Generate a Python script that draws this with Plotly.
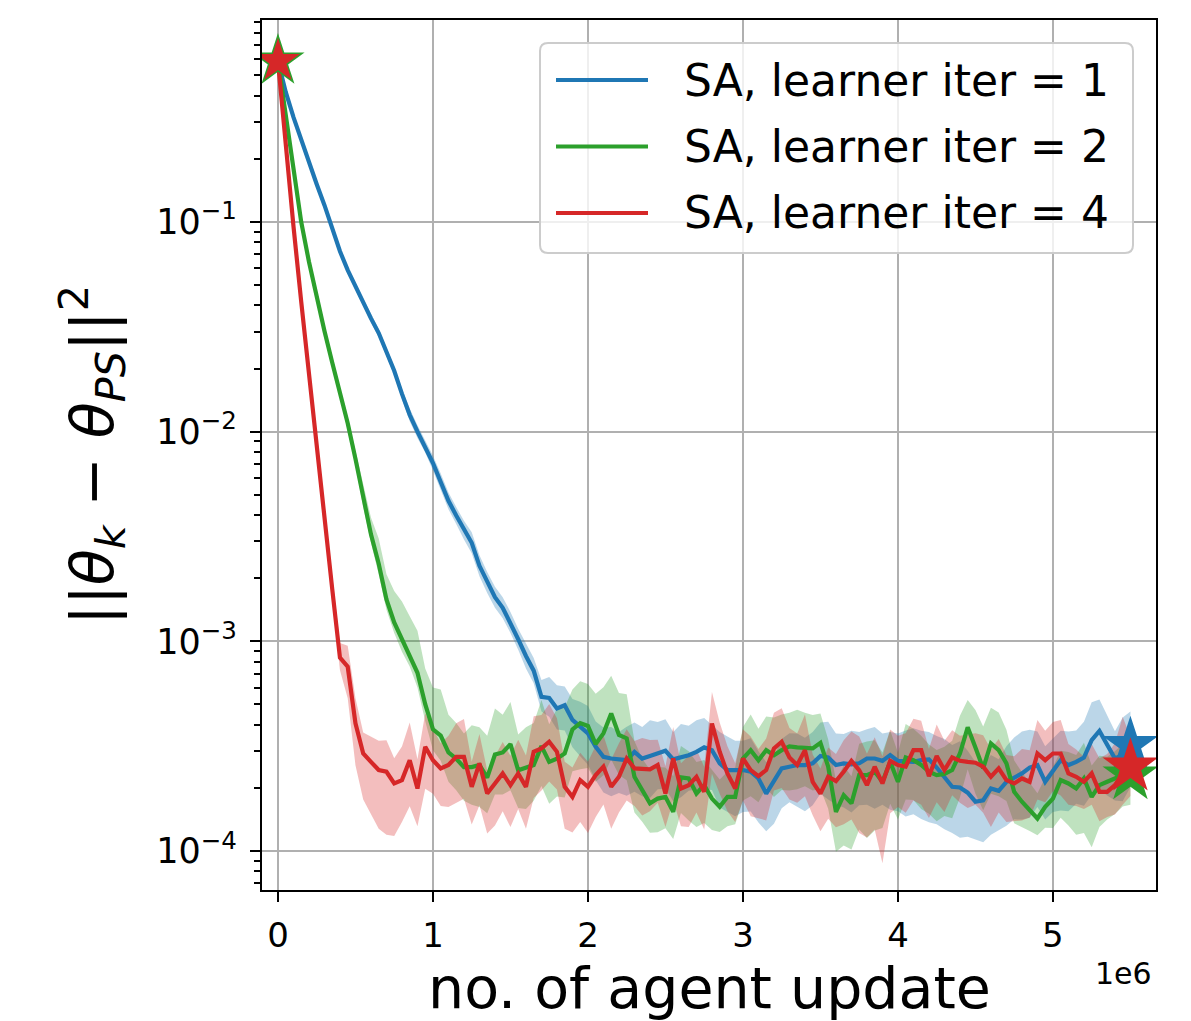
import numpy as np
import plotly.graph_objects as go

# ---------------- data ----------------
# x: number of agent updates, one sample every 50 000 updates
updates = np.arange(111) * 5e4

# log10 of the mean squared distance ||theta_k - theta_PS||^2
blue_log = [
    -0.233, -0.38, -0.50, -0.61, -0.72, -0.82, -0.92, -1.03, -1.14, -1.23,
    -1.31, -1.38, -1.46, -1.53, -1.62, -1.71, -1.82, -1.92, -2.00, -2.07,
    -2.15, -2.24, -2.33, -2.40, -2.47, -2.53, -2.64, -2.72, -2.79, -2.84,
    -2.91, -2.99, -3.07, -3.14, -3.265, -3.27, -3.32, -3.305, -3.375, -3.408,
    -3.439, -3.503, -3.551, -3.559, -3.563, -3.567, -3.527, -3.559, -3.547, -3.535,
    -3.522, -3.563, -3.554, -3.543, -3.527, -3.506, -3.519, -3.582, -3.614, -3.614,
    -3.614, -3.622, -3.654, -3.726, -3.670, -3.606, -3.598, -3.590, -3.590, -3.582,
    -3.547, -3.554, -3.590, -3.582, -3.587, -3.582, -3.559, -3.559, -3.570, -3.543,
    -3.570, -3.575, -3.575, -3.567, -3.563, -3.602, -3.646, -3.694, -3.697, -3.722,
    -3.765, -3.758, -3.702, -3.713, -3.670, -3.649, -3.630, -3.602, -3.590, -3.670,
    -3.614, -3.567, -3.590, -3.575, -3.554, -3.471, -3.427, -3.495, -3.559, -3.543,
    -3.495,
]
green_log = [
    -0.233, -0.50, -0.76, -1.00, -1.19, -1.36, -1.52, -1.67, -1.81, -1.96,
    -2.13, -2.32, -2.49, -2.63, -2.80, -2.91, -2.99, -3.06, -3.15, -3.30,
    -3.42, -3.45, -3.53, -3.56, -3.60, -3.60, -3.59, -3.65, -3.54, -3.53,
    -3.49, -3.615, -3.60, -3.59, -3.50, -3.575, -3.56, -3.535, -3.42, -3.39,
    -3.404, -3.49, -3.439, -3.344, -3.447, -3.463, -3.646, -3.710, -3.773, -3.750,
    -3.742, -3.813, -3.649, -3.654, -3.726, -3.686, -3.750, -3.789, -3.742, -3.742,
    -3.559, -3.519, -3.567, -3.519, -3.543, -3.519, -3.501, -3.506, -3.511, -3.511,
    -3.484, -3.598, -3.813, -3.734, -3.773, -3.638, -3.638, -3.622, -3.670, -3.575,
    -3.670, -3.554, -3.567, -3.590, -3.622, -3.638, -3.633, -3.614, -3.535, -3.410,
    -3.507, -3.606, -3.487, -3.519, -3.582, -3.718, -3.765, -3.805, -3.845, -3.789,
    -3.750, -3.662, -3.678, -3.702, -3.654, -3.742, -3.686, -3.670, -3.654, -3.638,
    -3.640,
]
red_log = [
    -0.233, -0.65, -1.02, -1.38, -1.73, -2.07, -2.41, -2.75, -3.078, -3.121,
    -3.391, -3.535, -3.575, -3.614, -3.622, -3.678, -3.662, -3.567, -3.702, -3.503,
    -3.567, -3.606, -3.590, -3.551, -3.551, -3.694, -3.582, -3.726, -3.678, -3.630,
    -3.686, -3.630, -3.694, -3.527, -3.511, -3.479, -3.527, -3.694, -3.742, -3.662,
    -3.694, -3.638, -3.598, -3.694, -3.646, -3.559, -3.606, -3.611, -3.611, -3.590,
    -3.726, -3.559, -3.702, -3.686, -3.646, -3.718, -3.392, -3.527, -3.630, -3.702,
    -3.559, -3.614, -3.643, -3.614, -3.511, -3.479, -3.554, -3.590, -3.519, -3.670,
    -3.726, -3.646, -3.667, -3.622, -3.570, -3.614, -3.686, -3.598, -3.678, -3.570,
    -3.590, -3.598, -3.519, -3.519, -3.643, -3.547, -3.614, -3.554, -3.570, -3.575,
    -3.579, -3.598, -3.646, -3.606, -3.662, -3.678, -3.654, -3.670, -3.535, -3.567,
    -3.535, -3.535, -3.630, -3.646, -3.670, -3.630, -3.718, -3.718, -3.686, -3.630,
    -3.598,
]

# spread of the shaded band above / below the mean (in decades)
blue_up = [
    0.01, 0.01, 0.01, 0.01, 0.01, 0.01, 0.01, 0.01, 0.01, 0.015,
    0.015, 0.015, 0.02, 0.02, 0.02, 0.02, 0.025, 0.03, 0.03, 0.03,
    0.035, 0.04, 0.04, 0.04, 0.045, 0.05, 0.05, 0.05, 0.05, 0.05,
    0.05, 0.05, 0.06, 0.06, 0.08, 0.10, 0.11, 0.09, 0.10, 0.12,
    0.13, 0.12, 0.14, 0.15, 0.13, 0.16, 0.14, 0.15, 0.17, 0.15,
    0.15, 0.13, 0.16, 0.14, 0.15, 0.14, 0.12, 0.15, 0.16, 0.14,
    0.14, 0.16, 0.13, 0.15, 0.12, 0.14, 0.16, 0.15, 0.13, 0.15,
    0.16, 0.17, 0.15, 0.14, 0.16, 0.15, 0.14, 0.15, 0.13, 0.11,
    0.13, 0.15, 0.16, 0.14, 0.13, 0.15, 0.18, 0.20, 0.22, 0.20,
    0.19, 0.17, 0.16, 0.15, 0.17, 0.19, 0.20, 0.18, 0.16, 0.17,
    0.15, 0.14, 0.16, 0.15, 0.17, 0.18, 0.15, 0.14, 0.13, 0.18,
    0.16,
]
blue_dn = [
    0.01, 0.01, 0.01, 0.01, 0.01, 0.01, 0.01, 0.01, 0.01, 0.015,
    0.015, 0.015, 0.02, 0.02, 0.02, 0.02, 0.025, 0.03, 0.03, 0.03,
    0.035, 0.04, 0.04, 0.04, 0.045, 0.05, 0.05, 0.05, 0.05, 0.05,
    0.05, 0.05, 0.06, 0.06, 0.07, 0.09, 0.10, 0.12, 0.13, 0.14,
    0.15, 0.16, 0.17, 0.18, 0.16, 0.17, 0.19, 0.18, 0.20, 0.17,
    0.18, 0.20, 0.19, 0.17, 0.18, 0.20, 0.19, 0.21, 0.20, 0.22,
    0.20, 0.19, 0.21, 0.18, 0.20, 0.19, 0.17, 0.20, 0.22, 0.20,
    0.18, 0.20, 0.19, 0.21, 0.23, 0.20, 0.22, 0.24, 0.21, 0.26,
    0.24, 0.26, 0.25, 0.28, 0.30, 0.27, 0.25, 0.22, 0.24, 0.21,
    0.18, 0.20, 0.22, 0.19, 0.21, 0.20, 0.22, 0.24, 0.20, 0.18,
    0.20, 0.24, 0.22, 0.20, 0.23, 0.26, 0.28, 0.24, 0.20, 0.22,
    0.20,
]
green_up = [
    0.01, 0.01, 0.01, 0.01, 0.015, 0.015, 0.02, 0.02, 0.02, 0.03,
    0.04, 0.06, 0.08, 0.12, 0.12, 0.15, 0.18, 0.18, 0.20, 0.17,
    0.20, 0.22, 0.18, 0.17, 0.16, 0.20, 0.18, 0.20, 0.22, 0.18,
    0.20, 0.17, 0.19, 0.20, 0.22, 0.18, 0.24, 0.22, 0.19, 0.20,
    0.20, 0.24, 0.22, 0.18, 0.20, 0.21, 0.17, 0.15, 0.16, 0.15,
    0.14, 0.17, 0.15, 0.13, 0.15, 0.12, 0.14, 0.13, 0.12, 0.14,
    0.15, 0.17, 0.15, 0.16, 0.18, 0.17, 0.16, 0.18, 0.17, 0.16,
    0.14, 0.13, 0.15, 0.14, 0.13, 0.15, 0.16, 0.15, 0.14, 0.15,
    0.14, 0.16, 0.15, 0.14, 0.13, 0.12, 0.13, 0.14, 0.18, 0.13,
    0.18, 0.20, 0.17, 0.18, 0.16, 0.15, 0.14, 0.13, 0.12, 0.14,
    0.15, 0.14, 0.15, 0.16, 0.17, 0.15, 0.14, 0.12, 0.13, 0.15,
    0.14,
]
green_dn = [
    0.01, 0.01, 0.01, 0.01, 0.015, 0.015, 0.02, 0.02, 0.02, 0.03,
    0.03, 0.04, 0.04, 0.05, 0.05, 0.05, 0.06, 0.06, 0.07, 0.08,
    0.10, 0.12, 0.14, 0.15, 0.16, 0.18, 0.20, 0.17, 0.19, 0.20,
    0.22, 0.18, 0.20, 0.17, 0.19, 0.20, 0.18, 0.21, 0.20, 0.22,
    0.20, 0.18, 0.20, 0.22, 0.19, 0.20, 0.17, 0.15, 0.14, 0.16,
    0.15, 0.13, 0.17, 0.20, 0.16, 0.18, 0.15, 0.12, 0.14, 0.13,
    0.20, 0.22, 0.20, 0.18, 0.20, 0.19, 0.21, 0.20, 0.18, 0.20,
    0.22, 0.20, 0.19, 0.24, 0.22, 0.26, 0.30, 0.28, 0.22, 0.20,
    0.18, 0.20, 0.19, 0.21, 0.20, 0.22, 0.20, 0.23, 0.21, 0.20,
    0.22, 0.20, 0.24, 0.22, 0.18, 0.15, 0.12, 0.10, 0.08, 0.10,
    0.14, 0.18, 0.20, 0.22, 0.26, 0.24, 0.20, 0.18, 0.17, 0.15,
    0.14,
]
red_up = [
    0.01, 0.01, 0.01, 0.015, 0.02, 0.03, 0.04, 0.05, 0.07, 0.10,
    0.12, 0.10, 0.12, 0.14, 0.15, 0.12, 0.16, 0.18, 0.14, 0.16,
    0.15, 0.12, 0.14, 0.16, 0.18, 0.12, 0.14, 0.11, 0.13, 0.15,
    0.14, 0.16, 0.15, 0.17, 0.16, 0.18, 0.16, 0.12, 0.14, 0.13,
    0.12, 0.14, 0.15, 0.13, 0.16, 0.14, 0.13, 0.15, 0.14, 0.12,
    0.13, 0.15, 0.12, 0.14, 0.13, 0.12, 0.15, 0.14, 0.13, 0.12,
    0.14, 0.16, 0.13, 0.15, 0.17, 0.16, 0.14, 0.15, 0.17, 0.13,
    0.12, 0.14, 0.13, 0.15, 0.14, 0.16, 0.15, 0.14, 0.13, 0.15,
    0.14, 0.16, 0.15, 0.14, 0.13, 0.15, 0.14, 0.13, 0.12, 0.13,
    0.14, 0.15, 0.13, 0.14, 0.12, 0.13, 0.14, 0.15, 0.16, 0.14,
    0.15, 0.16, 0.14, 0.13, 0.12, 0.14, 0.16, 0.18, 0.20, 0.27,
    0.14,
]
red_dn = [
    0.01, 0.01, 0.01, 0.015, 0.02, 0.03, 0.04, 0.05, 0.06, 0.15,
    0.20, 0.22, 0.25, 0.28, 0.30, 0.25, 0.20, 0.22, 0.18, 0.20,
    0.16, 0.18, 0.20, 0.22, 0.20, 0.18, 0.20, 0.19, 0.20, 0.18,
    0.20, 0.17, 0.20, 0.22, 0.20, 0.19, 0.18, 0.20, 0.17, 0.20,
    0.22, 0.20, 0.18, 0.20, 0.17, 0.20, 0.18, 0.22, 0.20, 0.18,
    0.16, 0.20, 0.18, 0.20, 0.17, 0.18, 0.24, 0.20, 0.18, 0.16,
    0.20, 0.22, 0.20, 0.24, 0.20, 0.22, 0.20, 0.18, 0.22, 0.16,
    0.18, 0.20, 0.22, 0.25, 0.28, 0.30, 0.25, 0.30, 0.38, 0.25,
    0.20, 0.22, 0.24, 0.26, 0.20, 0.22, 0.20, 0.18, 0.20, 0.22,
    0.20, 0.22, 0.24, 0.21, 0.20, 0.18, 0.20, 0.17, 0.22, 0.20,
    0.18, 0.20, 0.15, 0.14, 0.13, 0.15, 0.14, 0.12, 0.14, 0.15,
    0.14,
]

labels = ["SA, learner iter = 1", "SA, learner iter = 2", "SA, learner iter = 4"]
colors = ["#1f77b4", "#2ca02c", "#d62728"]
fills = ["rgba(31,119,180,0.3)", "rgba(44,160,44,0.3)", "rgba(214,39,40,0.3)"]
means_log = [blue_log, green_log, red_log]
ups = [blue_up, green_up, red_up]
dns = [blue_dn, green_dn, red_dn]

x_ticks = [0, 1e6, 2e6, 3e6, 4e6, 5e6]
x_ticktext = ["0", "1", "2", "3", "4", "5"]
y_ticks = [1e-4, 1e-3, 1e-2, 1e-1]
y_ticktext = ["10<sup>\u22124</sup>", "10<sup>\u22123</sup>", "10<sup>\u22122</sup>", "10<sup>\u22121</sup>"]
y_minor = [m * 10.0 ** e for e in range(-5, 0) for m in range(2, 10)]

# ---------------- figure ----------------
L, R, T, B = 262, 35, 20, 131
W, H = 1191, 1021
PW, PH = W - L - R, H - T - B


def px(xp):
    return (xp - L) / PW


def py(yp):
    return (H - B - yp) / PH


fig = go.Figure()

# shaded bands
for lab, mlog, up, dn, fc in zip(labels, means_log, ups, dns, fills):
    m = np.array(mlog)
    lo = 10 ** (m - np.array(dn))
    hi = 10 ** (m + np.array(up))
    fig.add_trace(go.Scatter(x=updates, y=lo, mode="lines", line=dict(width=0),
                             hoverinfo="skip", showlegend=False))
    fig.add_trace(go.Scatter(x=updates, y=hi, mode="lines", line=dict(width=0),
                             fill="tonexty", fillcolor=fc, hoverinfo="skip",
                             showlegend=False))

# mean curves
for lab, mlog, c in zip(labels, means_log, colors):
    fig.add_trace(go.Scatter(x=updates, y=10 ** np.array(mlog), mode="lines",
                             name=lab, line=dict(color=c, width=4.2),
                             showlegend=False))

# start / end star markers
start_sizes = [34, 40, 33]
for lab, mlog, c, s in zip(labels, means_log, colors, start_sizes):
    fig.add_trace(go.Scatter(x=[updates[0]], y=[10 ** mlog[0]], mode="markers",
                             marker=dict(symbol="star", size=s, color=c,
                                         line=dict(width=0)),
                             showlegend=False, hoverinfo="skip"))
for lab, mlog, c in zip(labels, means_log, colors):
    fig.add_trace(go.Scatter(x=[updates[-1]], y=[10 ** mlog[-1]], mode="markers",
                             marker=dict(symbol="star", size=42, color=c,
                                         line=dict(width=0)),
                             showlegend=False, hoverinfo="skip"))

FONT = "DejaVu Sans"

fig.update_layout(
    width=W, height=H,
    margin=dict(l=L, r=R, t=T, b=B),
    paper_bgcolor="white", plot_bgcolor="white",
    font=dict(family=FONT, color="black"),
    showlegend=False,
    xaxis=dict(
        range=[-0.103e6, 5.665e6],
        tickmode="array", tickvals=x_ticks, ticktext=x_ticktext,
        tickfont=dict(size=34, family=FONT, color="black"),
        showgrid=True, gridcolor="#b0b0b0", gridwidth=2.2,
        zeroline=False,
        showline=True, mirror=True, linecolor="black", linewidth=2.2,
        ticks="outside", ticklen=10, tickwidth=2.2, tickcolor="black",
        ticklabelstandoff=4,
    ),
    yaxis=dict(
        type="log",
        range=[-4.186, -0.037],
        tickmode="array", tickvals=y_ticks, ticktext=y_ticktext,
        tickfont=dict(size=35, family=FONT, color="black"),
        showgrid=True, gridcolor="#b0b0b0", gridwidth=2.2,
        zeroline=False,
        showline=True, mirror=True, linecolor="black", linewidth=2.2,
        ticks="outside", ticklen=10, tickwidth=2.2, tickcolor="black",
        ticklabelstandoff=6,
        minor=dict(tickmode="array", tickvals=y_minor, ticks="outside",
                   ticklen=6, tickwidth=1.7, tickcolor="black", showgrid=False),
    ),
)

# axis labels
fig.add_annotation(text="no. of agent update", xref="paper", yref="paper",
                   x=0.5, y=py(988), xanchor="center", yanchor="middle",
                   showarrow=False, font=dict(size=57, family=FONT, color="black"))
fig.add_annotation(text="||<i>\u03b8</i><sub><i>k</i></sub> \u2212 <i>\u03b8</i><sub><i>PS</i></sub>||<sup>2</sup>",
                   xref="paper", yref="paper", x=px(92), y=py(455),
                   xanchor="center", yanchor="middle", textangle=-90,
                   showarrow=False, font=dict(size=59, family=FONT, color="black"))
# offset text of the x axis
fig.add_annotation(text="1e6", xref="paper", yref="paper", x=px(1154), y=py(973),
                   xanchor="right", yanchor="middle", showarrow=False,
                   font=dict(size=30, family=FONT, color="black"))

# ---- legend (drawn like matplotlib's: rounded frame, long handles) ----
bx0, bx1, by0, by1, rad = 540, 1133, 43, 253, 8
rx, ry = rad / PW, rad / PH
X0, X1, Y0, Y1 = px(bx0), px(bx1), py(by1), py(by0)
path = (f"M {X0 + rx},{Y0} L {X1 - rx},{Y0} Q {X1},{Y0} {X1},{Y0 + ry} "
        f"L {X1},{Y1 - ry} Q {X1},{Y1} {X1 - rx},{Y1} L {X0 + rx},{Y1} "
        f"Q {X0},{Y1} {X0},{Y1 - ry} L {X0},{Y0 + ry} Q {X0},{Y0} {X0 + rx},{Y0} Z")
fig.add_shape(type="path", path=path, xref="paper", yref="paper",
              fillcolor="rgba(255,255,255,0.8)", line=dict(color="#cccccc", width=2),
              layer="above")
for k, (lab, c) in enumerate(zip(labels, colors)):
    yy = 80 + k * 66.5
    fig.add_shape(type="line", xref="paper", yref="paper",
                  x0=px(556), x1=px(648), y0=py(yy), y1=py(yy),
                  line=dict(color=c, width=4.2), layer="above")
    fig.add_annotation(text=lab, xref="paper", yref="paper", x=px(682), y=py(yy),
                       xanchor="left", yanchor="middle", showarrow=False,
                       font=dict(size=44, family=FONT, color="black"))

fig.write_html("out.html", config={"displayModeBar": False},
               post_script="document.body.style.margin='0px';")
